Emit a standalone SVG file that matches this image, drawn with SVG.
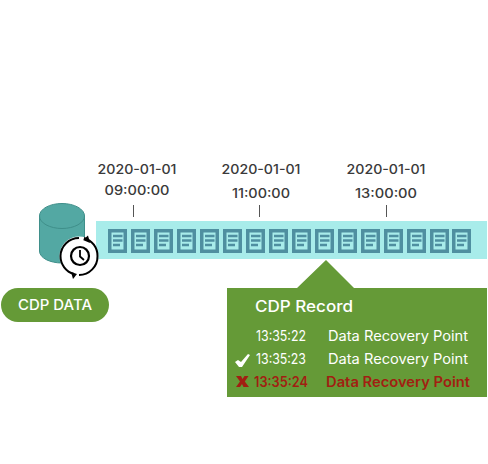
<svg xmlns="http://www.w3.org/2000/svg" width="488" height="464" viewBox="0 0 488 464">
<style>
text{font-family:"Inter","Liberation Sans",sans-serif}
.d{font-size:13px;font-weight:500;fill:#3a3a3a;text-anchor:middle}
.w{font-size:14px;fill:#fff;font-weight:400}
.r{font-size:14px;fill:#a11f12;font-weight:600}
.tick{stroke:#555;stroke-width:1}
.pg{fill:#a8ecea;stroke:#4f8fa0;stroke-width:3.500}
.ln{stroke:#4f8fa0;stroke-width:2.500}
</style>
<defs>
<g id="doc"><rect class="pg" x="1.750" y="1.750" width="15.500" height="20.500"/><line class="ln" x1="5" y1="7" x2="14.500" y2="7"/><line class="ln" x1="5" y1="11.500" x2="14.500" y2="11.500"/><line class="ln" x1="5" y1="16" x2="12" y2="16"/></g>
</defs>
<g id="timeline">
<rect x="96" y="221" width="391" height="38" fill="#a8ecea"/>
<use href="#doc" x="108" y="229"/><use href="#doc" x="131" y="229"/><use href="#doc" x="154" y="229"/><use href="#doc" x="177" y="229"/><use href="#doc" x="200" y="229"/><use href="#doc" x="223" y="229"/><use href="#doc" x="246" y="229"/><use href="#doc" x="269" y="229"/><use href="#doc" x="292" y="229"/><use href="#doc" x="315" y="229"/><use href="#doc" x="338" y="229"/><use href="#doc" x="361" y="229"/><use href="#doc" x="384" y="229"/><use href="#doc" x="407" y="229"/><use href="#doc" x="430" y="229"/><use href="#doc" x="452" y="229"/>
</g>
<g id="connectors">
<line class="tick" x1="133.500" y1="205" x2="133.500" y2="217"/>
<line class="tick" x1="259.500" y1="205" x2="259.500" y2="217"/>
<line class="tick" x1="386.500" y1="205" x2="386.500" y2="217"/>
</g>
<g id="label-09">
<text class="d" x="137" y="174" textLength="79" lengthAdjust="spacingAndGlyphs">2020-01-01</text>
<text class="d" x="137" y="195" textLength="65" lengthAdjust="spacingAndGlyphs">09:00:00</text>
</g>
<g id="label-11">
<text class="d" x="261" y="174" textLength="79" lengthAdjust="spacingAndGlyphs">2020-01-01</text>
<text class="d" x="261" y="198" textLength="58" lengthAdjust="spacingAndGlyphs">11:00:00</text>
</g>
<g id="label-13">
<text class="d" x="386" y="174" textLength="79" lengthAdjust="spacingAndGlyphs">2020-01-01</text>
<text class="d" x="386" y="198" textLength="62" lengthAdjust="spacingAndGlyphs">13:00:00</text>
</g>
<g id="database">
<path d="M39.500 216V251C39.500 258 50 263 62 263C74 263 84.500 258 84.500 251V216Z" fill="#53a8a3" stroke="#3f8f8a"/>
<ellipse cx="62" cy="216" rx="22.500" ry="12.500" fill="#53a8a3" stroke="#3f8f8a"/>
</g>
<g id="clock">
<circle cx="79" cy="256" r="19.500" fill="#fff"/>
<path d="M84 238A18.500 18.500 0 0 1 97.500 256A18.500 18.500 0 0 1 79 275" fill="none" stroke="#000" stroke-width="2"/>
<path d="M74 274A18.500 18.500 0 0 1 60.500 256A18.500 18.500 0 0 1 79 238" fill="none" stroke="#000" stroke-width="2"/>
<path d="M83 240L88 235.500L90 243Z" fill="#000"/><path d="M71 272L77 274L73 279Z" fill="#000"/>
<circle cx="80" cy="256" r="9" fill="none" stroke="#000" stroke-width="2.200"/>
<path d="M80 250V256.500L84 260" fill="none" stroke="#000" stroke-width="1.800"/>
</g>
<g id="cdp-data">
<rect x="1" y="288" width="108" height="34" rx="17" fill="#659a37"/>
<text x="55" y="310" font-size="14" font-weight="500" fill="#fff" text-anchor="middle" textLength="74" lengthAdjust="spacingAndGlyphs">CDP DATA</text>
</g>
<g id="cdp-record">
<path d="M227 288H297L326 260L354 288H487V397H227Z" fill="#659a37"/>
<text x="255" y="312" font-size="15.500" font-weight="500" fill="#fff" textLength="98" lengthAdjust="spacingAndGlyphs">CDP Record</text>
<text class="w" x="256" y="341" textLength="50" lengthAdjust="spacingAndGlyphs">13:35:22</text>
<text class="w" x="328" y="341" textLength="140" lengthAdjust="spacingAndGlyphs">Data Recovery Point</text>
<text class="w" x="256" y="364" textLength="50" lengthAdjust="spacingAndGlyphs">13:35:23</text>
<text class="w" x="328" y="364" textLength="140" lengthAdjust="spacingAndGlyphs">Data Recovery Point</text>
<text class="r" x="254" y="387" textLength="54" lengthAdjust="spacingAndGlyphs">13:35:24</text>
<text class="r" x="326" y="387" textLength="144" lengthAdjust="spacingAndGlyphs">Data Recovery Point</text>
<path d="M235 362L238 360L241 362L248 354L250 355L242 367H239Z" fill="#fff"/>
<path d="M236 376H241L242.500 379L244.500 376H248.500L244.800 381.500L249 387H243.500L242 384L240 387H236L240 381.500Z" fill="#a11f12"/>
</g>
</svg>
